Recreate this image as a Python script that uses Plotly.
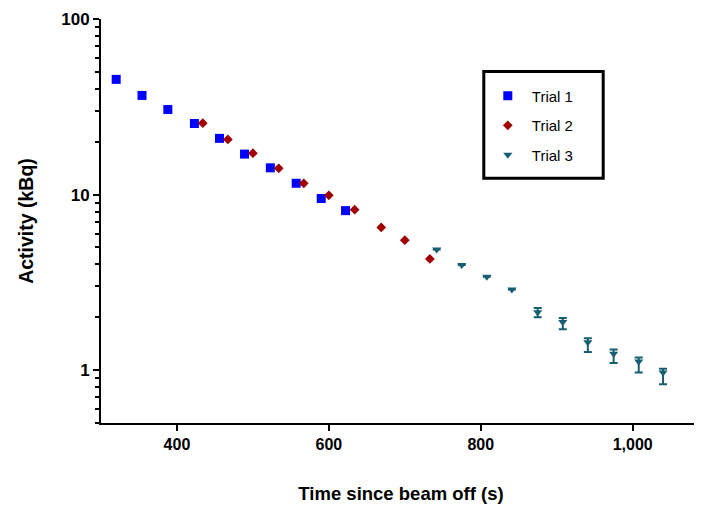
import plotly.graph_objects as go

# Trial 1
t1_x = [320, 354, 388, 423, 456, 489, 523, 557, 590, 622]
t1_y = [45.3, 36.7, 30.5, 25.4, 20.9, 17.0, 14.2, 11.6, 9.5, 8.1]
# Trial 2
t2_x = [434, 467, 500, 534, 567, 600, 634, 669, 700, 733]
t2_y = [25.5, 20.6, 17.2, 14.1, 11.6, 9.9, 8.2, 6.5, 5.5, 4.3]
# Trial 3
t3_x = [742, 775, 808, 841, 875, 908, 941, 975, 1008, 1040]
t3_y = [4.86, 3.97, 3.40, 2.88, 2.14, 1.88, 1.44, 1.24, 1.12, 0.97]
t3_err_minus = [0, 0, 0, 0, 0.14, 0.17, 0.17, 0.14, 0.15, 0.14]
t3_err_plus = [0, 0, 0, 0, 0.12, 0.10, 0.08, 0.07, 0.06, 0.05]

x_ticks = [400, 600, 800, 1000]
y_ticks = [1, 10, 100]
y_minor = [0.5, 0.6, 0.7, 0.8, 0.9, 2, 3, 4, 5, 6, 7, 8, 9, 20, 30, 40, 50, 60, 70, 80, 90]

BLUE = "#0000FF"
RED = "#A00000"
TEAL = "#175E70"
FONT = "Arial, Liberation Sans, sans-serif"

fig = go.Figure()
fig.add_trace(go.Scatter(x=t1_x, y=t1_y, mode="markers", name="Trial 1", legendgroup="1",
                         marker=dict(symbol="square", size=9, color=BLUE)))
fig.add_trace(go.Scatter(x=t2_x, y=t2_y, mode="markers", name="Trial 2", legendgroup="2",
                         marker=dict(symbol="diamond", size=7.5, color=RED)))
fig.add_trace(go.Scatter(x=t3_x, y=t3_y, mode="markers", name="Trial 3", legendgroup="3",
                         marker=dict(symbol="triangle-down", size=8, color=TEAL),
                         error_y=dict(type="data", symmetric=False, array=t3_err_plus,
                                      arrayminus=t3_err_minus, color=TEAL, thickness=2, width=4)))

# legend frame
fig.add_shape(type="rect", xref="paper", yref="paper",
              x0=0.638, x1=0.837, y0=0.606, y1=0.870,
              line=dict(color="black", width=3), fillcolor="white", layer="below")

fig.update_layout(
    width=694, height=507,
    margin=dict(l=93, r=1, t=10.5, b=92, autoexpand=False),
    plot_bgcolor="white", paper_bgcolor="white",
    font=dict(family=FONT, color="black"),
    showlegend=True,
    legend=dict(x=0.638, y=0.850, xanchor="left", yanchor="top",
                borderwidth=0, bgcolor="rgba(0,0,0,0)",
                font=dict(size=15, family=FONT), tracegroupgap=7,
                itemsizing="trace", itemwidth=38),
)
fig.update_xaxes(
    range=[300, 1090], showgrid=False, zeroline=False, automargin=False,
    showline=True, linecolor="black", linewidth=2,
    ticks="outside", ticklen=6, tickwidth=2, tickcolor="black",
    tickvals=x_ticks, tickformat=",",
    tickfont=dict(size=16, weight="bold", family=FONT),
    title=dict(text="Time since beam off (s)", font=dict(size=18.5, weight="bold", family=FONT), standoff=35),
)
fig.update_yaxes(
    type="log", range=[-0.30103, 2], showgrid=False, zeroline=False, automargin=False,
    showline=True, linecolor="black", linewidth=2,
    ticks="outside", ticklen=6, tickwidth=2, tickcolor="black",
    tickvals=y_ticks, ticktext=["1", "10", "100"],
    tickfont=dict(size=17, weight="bold", family=FONT),
    minor=dict(ticks="outside", ticklen=4, tickwidth=2, tickcolor="black", tickvals=y_minor, showgrid=False),
    title=dict(text="Activity (kBq)", font=dict(size=19.5, weight="bold", family=FONT), standoff=22),
)

fig.write_html("out.html")
